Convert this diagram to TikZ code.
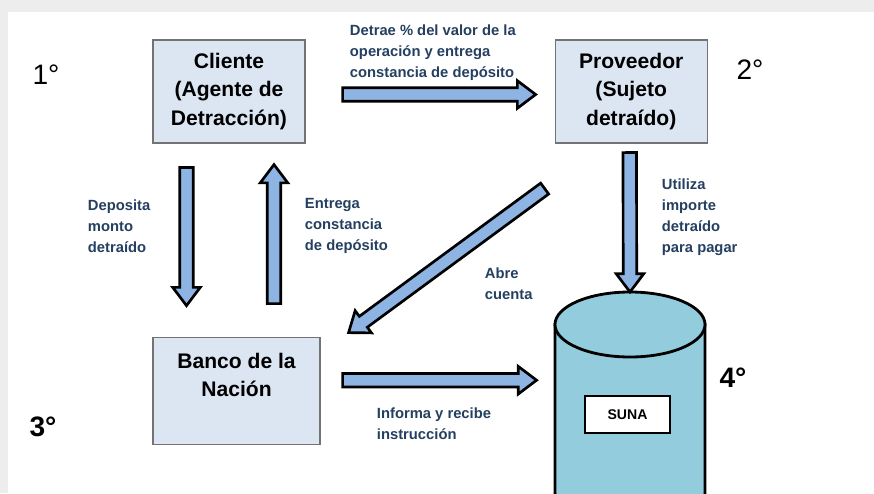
\documentclass[tikz,border=0pt]{standalone}
\usepackage{fontspec}
\setmainfont{Liberation Sans}
\usetikzlibrary{calc,positioning}

\definecolor{boxfill}{HTML}{DCE6F2}
\definecolor{arrfill}{HTML}{8DB4E2}
\definecolor{dbfill}{HTML}{93CDDD}
\definecolor{lbltext}{HTML}{243F60}
\definecolor{pageframe}{HTML}{EDEDED}

% block arrow from #1 to #2 (tip at #2)
\newcommand{\blockarrow}[2]{%
  \coordinate (bh) at ($(#2)!13pt!(#1)$);
  \filldraw[blockarr] ($(#1)!4.8pt!90:(#2)$) -- ($(bh)!4.8pt!90:(#2)$) -- ($(bh)!9.8pt!90:(#2)$) -- (#2)
    -- ($(bh)!9.8pt!-90:(#2)$) -- ($(bh)!4.8pt!-90:(#2)$) -- ($(#1)!4.8pt!-90:(#2)$) -- cycle;}

\begin{document}
\begin{tikzpicture}[
    x=0.025cm, y=-0.025cm,
    box/.style={rectangle, draw=gray!90!black, line width=0.8pt, fill=boxfill, minimum width=3.8cm, minimum height=2.575cm, align=center, font=\bfseries\fontsize{15}{20}\selectfont},
    lbl/.style={anchor=west, align=left, text=lbltext, font=\bfseries\fontsize{10.5}{15}\selectfont},
    deg/.style={font=\fontsize{20}{24}\selectfont},
    degb/.style={font=\bfseries\fontsize{20}{24}\selectfont},
    blockarr/.style={draw=black, fill=arrfill, line width=1.9pt, line join=miter},
    db/.style={draw=black, fill=dbfill, line width=2pt}
]
    \useasboundingbox (0,0) rectangle (874,493);
    \fill[pageframe] (0,0) rectangle (874,12);
    \fill[pageframe] (0,0) rectangle (8,493);

    \node[box] (cli) at (229,91.5) {Cliente\\(Agente de\\Detracción)};
    \node[box, right=6.225cm of cli] (prov) {Proveedor\\(Sujeto\\detraído)};
    \node[box, minimum width=4.175cm, minimum height=2.675cm, below=4.825cm of cli.south west, anchor=north west] (ban) {Banco de la\\Nación\\[2pt]~};

    % SUNA database
    \begin{scope}
        \clip (0,0) rectangle (874,493);
        \filldraw[db] (555,324.5) -- (555,493) arc[start angle=180, end angle=0, x radius=75, y radius=32.5] -- (705,324.5) -- cycle;
        \filldraw[db] (630,324.5) ellipse [x radius=75, y radius=32.5];
    \end{scope}
    \coordinate (dbtop) at (630,292);
    \node[draw, line width=1pt, fill=white, minimum width=2.125cm, minimum height=0.925cm, font=\bfseries\fontsize{10}{12}\selectfont] (suna) at (627.5,414.5) {SUNA};

    \node[deg] (n1) at (46,75) {1°};
    \node[deg] (n2) at (750,70) {2°};
    \node[degb] (n3) at (43,427) {3°};
    \node[degb] (n4) at (733,378) {4°};

    \coordinate (a1) at ($(cli.east)+(37,3)$);
    \coordinate (b1) at ($(prov.west)+(-19,3)$);
    \coordinate (a2) at ($(cli.south)+(-42.5,24)$);
    \coordinate (b2) at ($(ban.north)+(-50,-31)$);
    \coordinate (a3) at ($(ban.north)+(37.5,-33)$);
    \coordinate (b3) at ($(cli.south)+(45,21)$);
    \coordinate (a4) at ($(prov.south west)+(-10,45)$);
    \coordinate (b4) at ($(ban.north east)+(28,-4)$);
    \coordinate (a5) at ($(prov.south)+(-1.5,9)$);
    \coordinate (a6) at ($(ban.east)+(22,-10.5)$);
    \coordinate (b6) at ($(a6)+(194,0)$);

    \blockarrow{a1}{b1}
    \blockarrow{a2}{b2}
    \blockarrow{a3}{b3}
    \blockarrow{a4}{b4}
    \blockarrow{a5}{dbtop}
    \blockarrow{a6}{b6}

    \node[lbl] (t1) at (345,53) {Detrae \% del valor de la\\operación y entrega\\constancia de depósito};
    \node[lbl] (t2) at (83,226) {Deposita\\monto\\detraído};
    \node[lbl] (t3) at (300,226) {Entrega\\constancia\\de depósito};
    \node[lbl] (t4) at (480,284) {Abre\\cuenta};
    \node[lbl] (t5) at (657,217) {Utiliza\\importe\\detraído\\para pagar};
    \node[lbl] (t6) at (372,424) {Informa y recibe\\instrucción};
\end{tikzpicture}
\end{document}
